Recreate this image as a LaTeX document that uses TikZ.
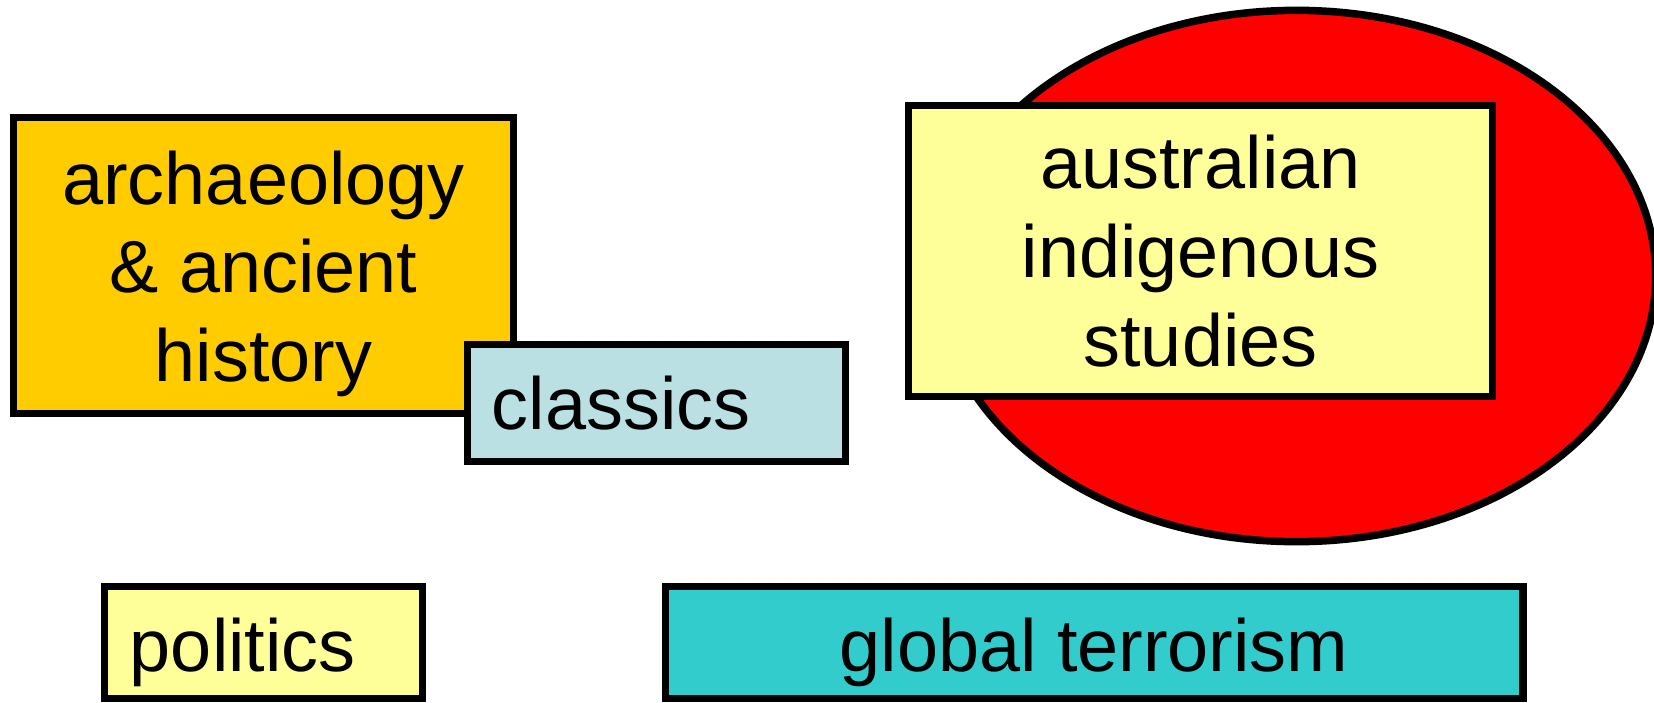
\documentclass[tikz,border=0pt]{standalone}
\usepackage{fontspec}
\setmainfont{Liberation Sans}
\usetikzlibrary{shapes.geometric}
\definecolor{orangebox}{HTML}{FFCC00}
\definecolor{classicsblue}{HTML}{BBE0E3}
\definecolor{paleyellow}{HTML}{FFFF99}
\definecolor{tealbox}{HTML}{33CCCC}
\tikzset{
  box/.style={draw=black, line width=0.075cm, rectangle, inner sep=0pt, font=\fontsize{21}{25.2}\selectfont},
}
\newcommand{\lowertext}[2]{\raisebox{-#1}[\height][\depth]{#2}}
\begin{document}
\begin{tikzpicture}[x=0.01cm, y=-0.01cm]
\useasboundingbox (0,0) rectangle (1654,703);
% red ellipse
\node[ellipse, draw=black, line width=0.075cm, fill=red, minimum width=7.18cm, minimum height=5.31cm, inner sep=0pt] (oval) at (1296.5,276) {};
% australian indigenous studies
\node[box, fill=paleyellow, minimum width=5.84cm, minimum height=2.91cm, align=center] (ais) at (1200.5,251) {australian\\indigenous\\studies};
% archaeology
\node[box, fill=orangebox, minimum width=5.00cm, minimum height=2.96cm] (arch) at (263.5,265.5) {\lowertext{0.095cm}{\begin{tabular}{@{}c@{}}archaeology\\\& ancient\\history\end{tabular}}};
% classics
\node[box, fill=classicsblue, minimum height=1.17cm, inner xsep=0.245cm, text width=3.29cm, align=left] (cls) at (656.5,403) {classics};
% politics
\node[box, fill=paleyellow, minimum height=1.12cm, inner xsep=0.255cm, text width=2.67cm, align=left] (pol) at (263.5,642.5) {\lowertext{0.10cm}{politics}};
% global terrorism
\node[box, fill=tealbox, minimum width=8.57cm, minimum height=1.12cm, align=center] (gt) at (1094,642.5) {\lowertext{0.10cm}{global terrorism}};
\end{tikzpicture}
\end{document}
